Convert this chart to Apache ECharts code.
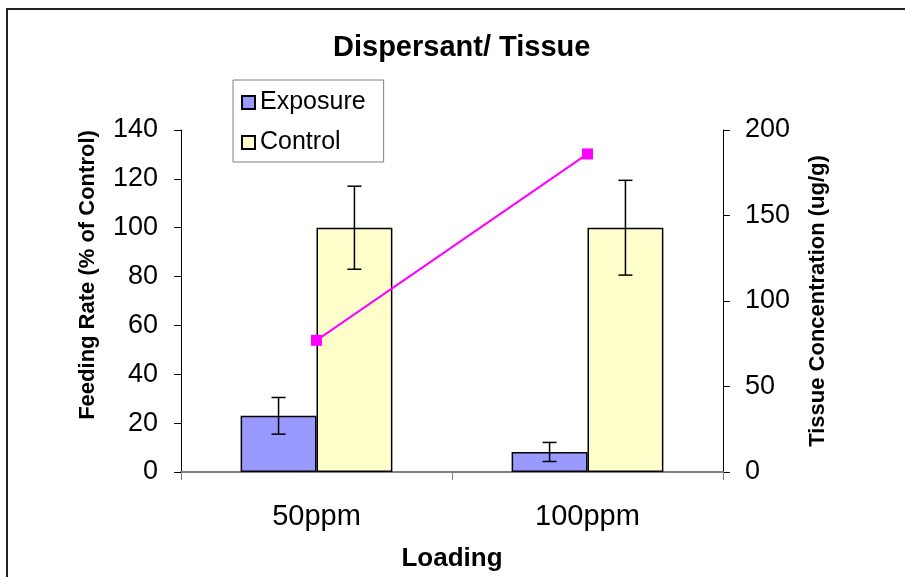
<!DOCTYPE html>
<html>
<head>
<meta charset="utf-8">
<script src="https://cdn.jsdelivr.net/npm/echarts@6/dist/echarts.min.js"></script>
<style>html,body{margin:0;padding:0;background:#fff}#c{width:905px;height:577px}</style>
</head>
<body>
<div id="c"></div>
<script>
const categories = ['50ppm', '100ppm'];
const exposure = [23, 8.2];
const exposureErr = [7.5, 3.9];
const control = [100, 100];
const controlErr = [17, 19.4];
const tissue = [77, 186];
const leftTicks = [0, 140, 20];
const rightTicks = [0, 200, 50];

const FONT = '"Liberation Sans", Arial, sans-serif';
const chart = echarts.init(document.getElementById('c'), null, {renderer: 'canvas'});

function errItem(side) {
  return function (params, api) {
    const i = api.value(0);
    const v = api.value(1);
    const e = api.value(2);
    const band = api.size([1, 0])[0];
    const off = side * band * 0.14;
    const top = api.coord([i, v + e]);
    const bot = api.coord([i, v - e]);
    const x = top[0] + off;
    const cap = 7;
    const st = {stroke: '#000', lineWidth: 1.5};
    return {type: 'group', children: [
      {type: 'line', shape: {x1: x, y1: top[1], x2: x, y2: bot[1]}, style: st},
      {type: 'line', shape: {x1: x - cap, y1: top[1], x2: x + cap, y2: top[1]}, style: st},
      {type: 'line', shape: {x1: x - cap, y1: bot[1], x2: x + cap, y2: bot[1]}, style: st}
    ]};
  };
}

chart.setOption({
  animation: false,
  textStyle: {fontFamily: FONT},
  title: {
    text: 'Dispersant/ Tissue', left: 333, top: 33,
    padding: 0,
    textStyle: {fontSize: 29, fontWeight: 'bold', color: '#000', fontFamily: FONT}
  },
  graphic: [{
    type: 'rect', shape: {x: 7, y: 9, width: 1000, height: 1000},
    style: {fill: null, stroke: '#222', lineWidth: 2}, silent: true, z: -1
  }],
  legend: {
    orient: 'vertical', left: 233, top: 80,
    data: ['Exposure', 'Control'],
    icon: 'rect',
    itemWidth: 13, itemHeight: 13, itemGap: 15,
    padding: [10, 18, 7, 8],
    borderColor: '#808080', borderWidth: 1, backgroundColor: '#fff',
    textStyle: {fontSize: 25, color: '#000', lineHeight: 25, fontFamily: FONT}
  },
  grid: {left: 181, right: 182, top: 130, bottom: 103},
  xAxis: {
    type: 'category', data: categories,
    name: 'Loading', nameLocation: 'middle', nameGap: 74,
    nameTextStyle: {fontSize: 26, fontWeight: 'bold', color: '#000', fontFamily: FONT},
    axisLine: {lineStyle: {color: '#808080', width: 2}},
    axisTick: {show: true, length: 8, lineStyle: {color: '#808080', width: 1}},
    axisLabel: {fontSize: 29, color: '#000', margin: 30, fontFamily: FONT}
  },
  yAxis: [{
    type: 'value', min: leftTicks[0], max: leftTicks[1], interval: leftTicks[2],
    name: 'Feeding Rate (% of Control)', nameLocation: 'middle', nameGap: 82,
    nameTextStyle: {fontSize: 22, fontWeight: 'bold', color: '#000', fontFamily: FONT, padding: [0, 0, 0, 52]},
    axisLine: {show: true, lineStyle: {color: '#000', width: 1}},
    axisTick: {show: true, length: 7, lineStyle: {color: '#000'}},
    axisLabel: {fontSize: 27, color: '#000', margin: 23, fontFamily: FONT},
    splitLine: {show: false}
  }, {
    type: 'value', position: 'right', min: rightTicks[0], max: rightTicks[1], interval: rightTicks[2],
    name: 'Tissue Concentration (ug/g)', nameLocation: 'middle', nameGap: 84,
    nameTextStyle: {fontSize: 22, fontWeight: 'bold', color: '#000', fontFamily: FONT},
    axisLine: {show: true, lineStyle: {color: '#000', width: 1}},
    axisTick: {show: true, length: 7, lineStyle: {color: '#000'}},
    axisLabel: {fontSize: 27, color: '#000', margin: 22, fontFamily: FONT},
    splitLine: {show: false}
  }],
  series: [{
    name: 'Exposure', type: 'bar', data: exposure, barWidth: '28%', barGap: '0%',
    itemStyle: {color: '#9999FF', borderColor: '#000', borderWidth: 1.5}
  }, {
    name: 'Control', type: 'bar', data: control, barWidth: '28%', barGap: '0%',
    itemStyle: {color: '#FFFFCC', borderColor: '#000', borderWidth: 1.5}
  }, {
    name: 'ExpErr', type: 'custom', renderItem: errItem(-1),
    data: categories.map((c, i) => [i, exposure[i], exposureErr[i]]), z: 5
  }, {
    name: 'CtlErr', type: 'custom', renderItem: errItem(1),
    data: categories.map((c, i) => [i, control[i], controlErr[i]]), z: 5
  }, {
    name: 'Tissue', type: 'line', yAxisIndex: 1, data: tissue,
    symbol: 'rect', symbolSize: 11, showSymbol: true,
    lineStyle: {color: '#FF00FF', width: 2},
    itemStyle: {color: '#FF00FF'}, z: 6
  }]
});
</script>
</body>
</html>
